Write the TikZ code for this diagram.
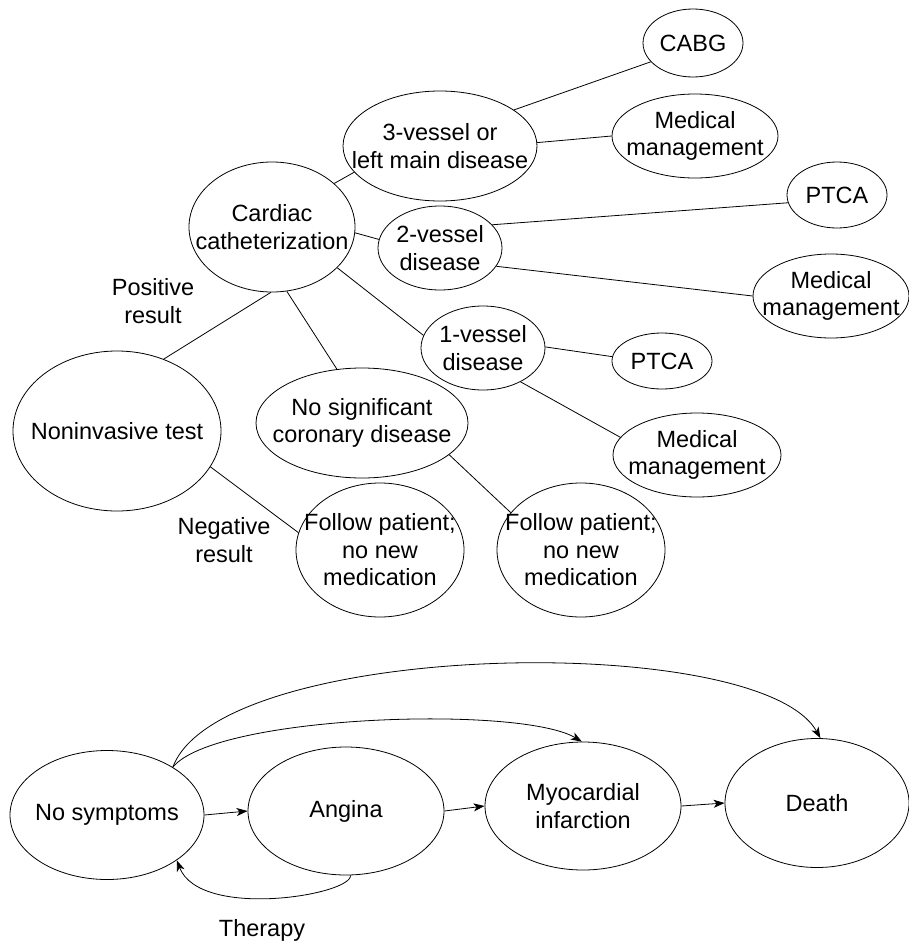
\documentclass[tikz,border=0pt]{standalone}
\usepackage{fontspec}
\setmainfont{Liberation Sans}
\usetikzlibrary{shapes.geometric,arrows.meta}
\tikzset{
  txt/.style={font=\fontsize{23.5}{27.5}\selectfont, align=center, inner sep=0pt},
  oval/.style n args={3}{ellipse, draw, line width=0.8pt, minimum width=#1, minimum height=#2, inner sep=0pt, label={[txt]center:#3}},
  link/.style={line width=0.8pt},
  arr/.style={line width=0.8pt, -{Stealth[length=11pt,width=8pt,inset=3pt]}},
}
\begin{document}
\begin{tikzpicture}[x=1pt,y=-1pt]
\useasboundingbox (0,0) rectangle (909,945);
% ---- decision tree ----
\node[oval={194}{110}{3-vessel or\\left main disease}] (v3) at (440,146) {};
\node[oval={166}{130}{Cardiac\\catheterization}] (cath) at (272,227) {};
\node[oval={124}{84}{2-vessel\\disease}] (v2) at (440,248) {};
\node[oval={124}{84}{1-vessel\\disease}] (v1) at (483,348) {};
\node[oval={212}{110}{No significant\\coronary disease}] (nosig) at (362,423) {};
\node[oval={208}{160}{Noninvasive test}] (ni) at (117,431) {};
\node[oval={168}{134}{Follow patient;\\no new\\medication}] (f1) at (380,550) {};
\node[oval={168}{134}{Follow patient;\\no new\\medication}] (f2) at (581,550) {};
\node[oval={100}{68}{CABG}] (cabg) at (693,43) {};
\node[oval={166}{84}{Medical\\management}] (mm1) at (695,136) {};
\node[oval={100}{66}{PTCA}] (ptca1) at (837,195) {};
\node[oval={156}{84}{Medical\\management}] (mm2) at (831,296) {};
\node[oval={100}{56}{PTCA}] (ptca2) at (662,361) {};
\node[oval={168}{84}{Medical\\management}] (mm3) at (697,455) {};

\node[txt] (pos) at (153,301) {Positive\\result};
\node[txt] (neg) at (224,540) {Negative\\result};

\draw[link] (cath.35) -- (v3.197);
\draw[link] (cath.356) -- (v2.172);
\draw[link] (cath.328) -- (v1.168);
\draw[link] (cath.283) -- (nosig.115);
\draw[link] (cath.269) -- (ni.57);
\draw[link] (ni.339) -- (f1.168);
\draw[link] (nosig.340) -- (f2.152);
\draw[link] (v3.26) -- (cabg.204);
\draw[link] (v3.2) -- (mm1.180);
\draw[link] (v2.24) -- (ptca1.189);
\draw[link] (v2.342) -- (mm2.180);
\draw[link] (v1.1) -- (ptca2.175);
\draw[link] (v1.318) -- (mm3.167);

% ---- state diagram ----
\node[oval={194}{129}{No symptoms}] (ns) at (107,815) {};
\node[oval={196}{128}{Angina}] (an) at (346,811) {};
\node[oval={196}{128}{Myocardial\\infarction}] (mi) at (583,806) {};
\node[oval={184}{129}{Death}] (de) at (817,803) {};
\node[txt] (th) at (262,930) {Therapy};

\draw[arr] (ns.east) -- (an.west);
\draw[arr] (an.east) -- (mi.west);
\draw[arr] (mi.east) -- (de.west);
\draw[arr] (ns.36) .. controls (215,715) and (520,705) .. (mi.91);
\draw[arr] (ns.36) .. controls (220,640) and (760,630) .. (de.87);
\draw[arr] (an.274) .. controls (352,895) and (200,920) .. (ns.327);
\end{tikzpicture}
\end{document}
